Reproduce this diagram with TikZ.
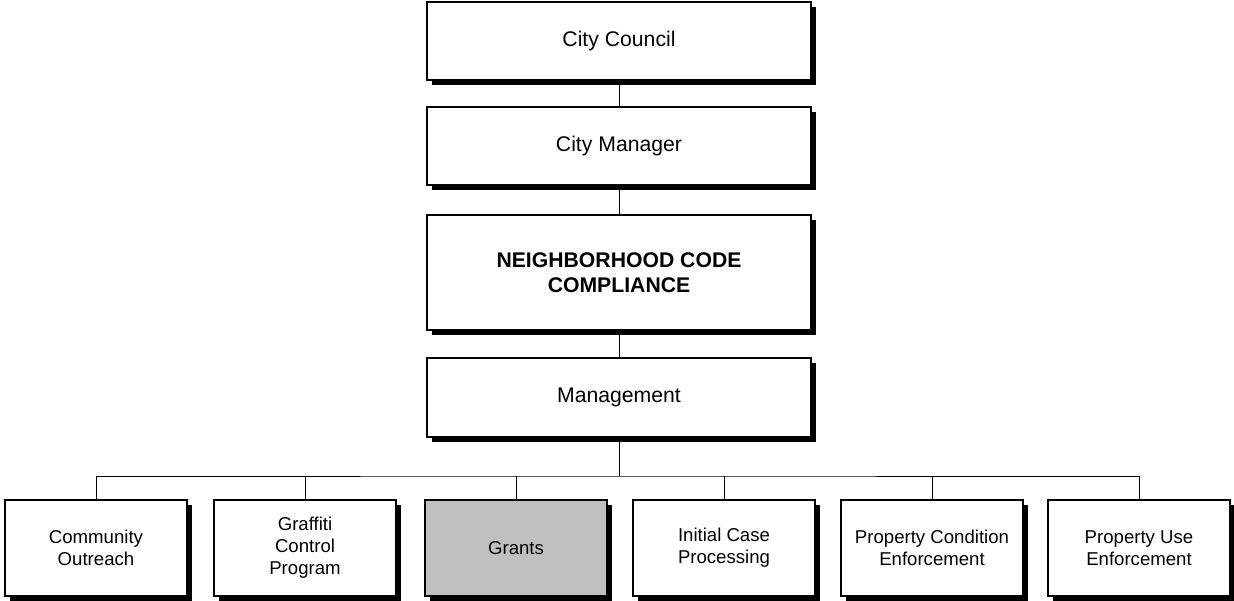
\documentclass[tikz,border=0pt]{standalone}
\usepackage{fontspec}
\setmainfont{Liberation Sans}
\usetikzlibrary{shadows}
\begin{document}
\begin{tikzpicture}[x=1pt,y=-1pt,
  orgbox/.style={draw=black, line width=1.2pt, fill=white, align=center,
    font=\fontsize{18.6}{22}\selectfont, inner sep=2pt,
    drop shadow={shadow xshift=5pt, shadow yshift=-5pt, fill=black, opacity=1}},
  topbox/.style={orgbox, minimum width=384pt, font=\fontsize{21.2}{25}\selectfont},
  unitbox/.style={orgbox, minimum width=182pt, minimum height=96pt},
  link/.style={draw=black, line width=1pt}]
\useasboundingbox (0,0) rectangle (1234,600);
\node[topbox, minimum height=78pt] (cc) at (619,41) {City Council};
\node[topbox, minimum height=78pt] (cm) at (619,146) {City Manager};
\node[topbox, minimum height=115pt, font=\bfseries\fontsize{21.2}{25}\selectfont] (ncc) at (619,272.5) {NEIGHBORHOOD CODE\\COMPLIANCE};
\node[topbox, minimum height=79pt] (mg) at (619,397.5) {Management};
\node[unitbox] (u1) at (96,548) {Community\\Outreach};
\node[unitbox] (u2) at (305,548) {Graffiti\\Control\\Program};
\node[unitbox, fill={rgb,255:red,192;green,192;blue,192}] (u3) at (516,548) {Grants};
\node[unitbox] (u4) at (724,548) {Initial Case\\Processing};
\node[unitbox] (u5) at (932,548) {Property Condition\\Enforcement};
\node[unitbox] (u6) at (1139,548) {Property Use\\Enforcement};
\coordinate (bus) at (619,476);
\path[link] (cc.south) -- (cm.north);
\path[link] (cm.south) -- (ncc.north);
\path[link] (ncc.south) -- (mg.north);
\path[link] (mg.south) -- (bus);
\path[link] (u1.north) |- (bus) -| (u6.north);
\foreach \u in {u2,u3,u4,u5} {\path[link] (\u.north) -- (\u.north |- bus);}
\end{tikzpicture}
\end{document}
